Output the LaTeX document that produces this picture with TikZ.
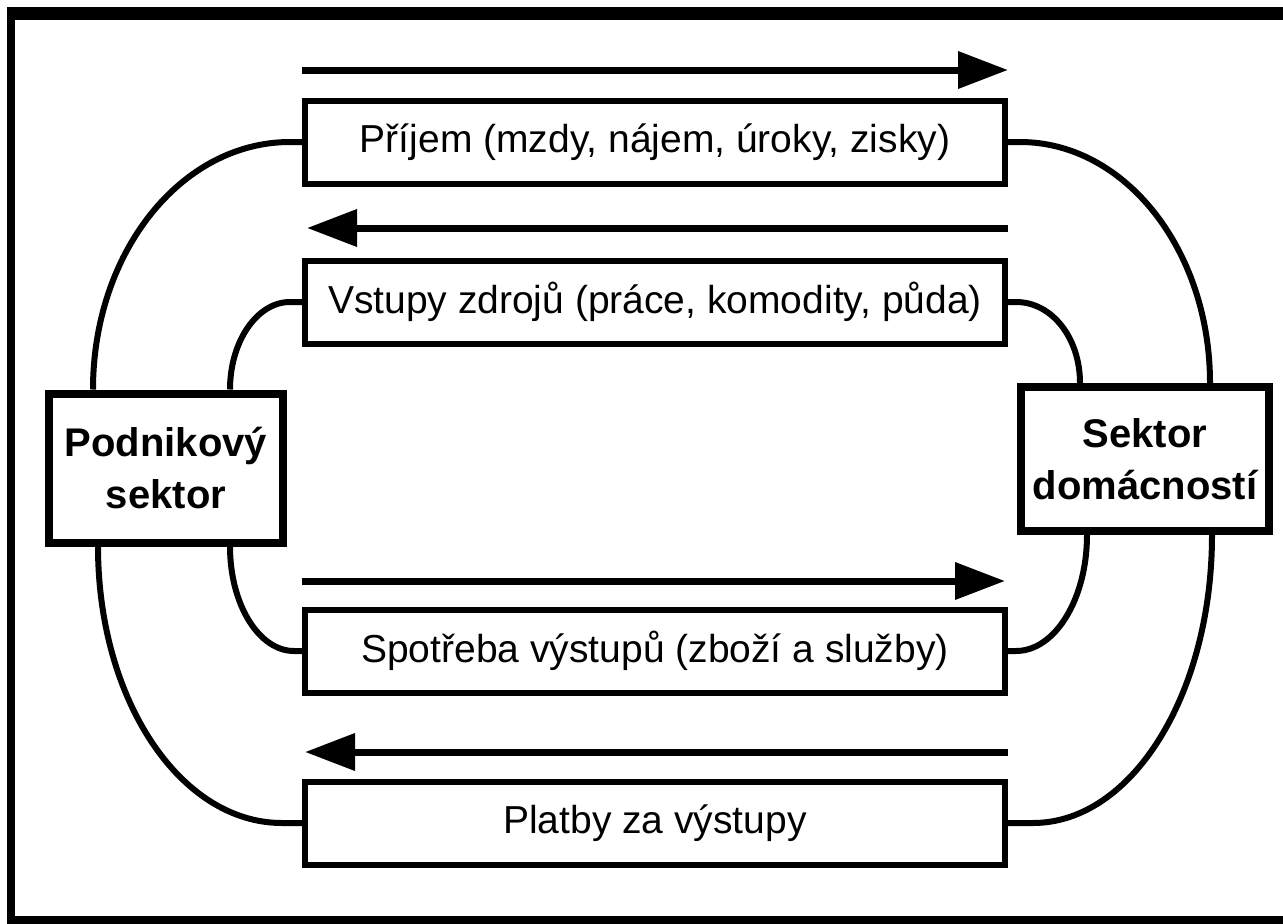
\documentclass[tikz,border=0pt]{standalone}
\usepackage{fontspec}
\setmainfont{Liberation Sans}
\usepackage{tikz}
\usetikzlibrary{
  positioning,
  calc,
  arrows.meta
}

\tikzset{
  flowbox/.style={draw, line width=6pt, minimum width=700pt, minimum height=83pt,
    inner sep=0pt, font=\fontsize{39}{45}\selectfont},
  sectorbox/.style={draw, line width=8pt, align=center, inner sep=0pt,
    font=\fontsize{40}{52}\selectfont\bfseries},
  link/.style={line width=6pt},
  flow/.style={line width=7pt, -{Triangle[length=50pt,width=36pt]}}
}

\begin{document}
\begin{tikzpicture}[x=1pt,y=-1pt]
  \useasboundingbox (0,0) rectangle (1283,924);
  \fill (7,7) rectangle (1283,20);
  \fill (7,7) rectangle (15,924);
  \fill (7,916) rectangle (1283,924);

  \node[flowbox] (income) at (655,142) {Příjem (mzdy, nájem, úroky, zisky)};
  \node[flowbox] (inputs) at (655,302) {Vstupy zdrojů (práce, komodity, půda)};
  \node[flowbox] (spending) at (655,651) {Spotřeba výstupů (zboží a služby)};
  \node[flowbox] (payments) at (655,823) {Platby za výstupy};

  \node[sectorbox, minimum width=234pt, minimum height=149pt] (firms) at (166,468) {Podnikový\\sektor};
  \node[sectorbox, minimum width=248pt, minimum height=144pt] (homes) at (1145,459) {Sektor\\domácností};

  \draw[flow] ([yshift=27.5pt]income.north west) -- ([yshift=27.5pt]income.north east);
  \draw[flow] ([yshift=29.5pt]inputs.north east) -- ([yshift=29.5pt,xshift=5pt]inputs.north west);
  \draw[flow] ([yshift=25.5pt]spending.north west) -- ([yshift=25.5pt,xshift=-3pt]spending.north east);
  \draw[flow] ([yshift=26.5pt]payments.north east) -- ([yshift=26.5pt,xshift=3pt]payments.north west);

  \draw[link] (income.west) -- ++(-12,0) .. controls +(-109,0) and +(0,-137) .. ([xshift=48pt]firms.north west);
  \draw[link] (inputs.west) -- ++(-12,0) .. controls +(-33,0) and +(0,-48) .. ([xshift=-57pt]firms.north east);
  \draw[link] ([xshift=53pt]firms.south west) .. controls +(0,153) and +(-102,0) .. ([xshift=-20pt]payments.west) -- (payments.west);
  \draw[link] ([xshift=-57pt]firms.south east) .. controls +(0,58) and +(-35,0) .. ([xshift=-8pt]spending.west) -- (spending.west);

  \draw[link] (income.east) -- ++(12,0) .. controls +(105,0) and +(0,-133) .. ([xshift=-63pt]homes.north east);
  \draw[link] (inputs.east) -- ++(8,0) .. controls +(36,0) and +(0,-45) .. ([xshift=63pt]homes.north west);
  \draw[link] ([xshift=70pt]homes.south west) .. controls +(0,64) and +(39,0) .. ([xshift=8pt]spending.east) -- (spending.east);
  \draw[link] ([xshift=-61pt]homes.south east) .. controls +(0,159) and +(99,0) .. ([xshift=25pt]payments.east) -- (payments.east);
\end{tikzpicture}
\end{document}
